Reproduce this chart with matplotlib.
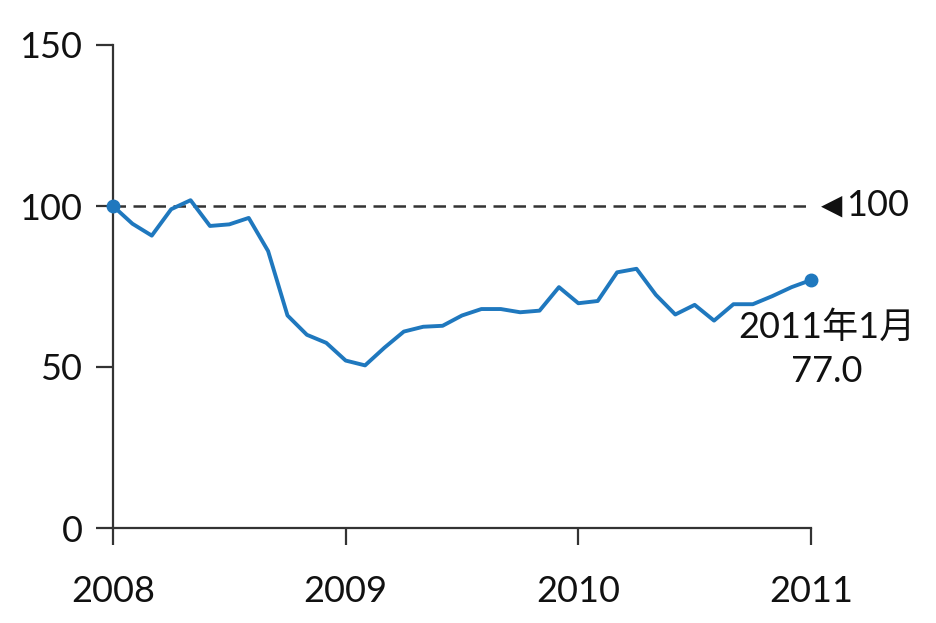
import matplotlib
matplotlib.use("Agg")
import matplotlib.pyplot as plt

months = list(range(37))
values = [100, 94.5, 90.8, 99, 101.8, 93.8, 94.3, 96.3, 86, 66, 60, 57.5,
          52, 50.5, 56, 61, 62.5, 62.8, 66, 68, 68, 67, 67.5, 74.8,
          69.8, 70.5, 79.4, 80.5, 72.4, 66.3, 69.3, 64.4, 69.5, 69.5, 72, 74.8,
          77]
xtick_pos = [0, 12, 24, 36]
xtick_labels = ["2008", "2009", "2010", "2011"]
yticks = [0, 50, 100, 150]
ref_value = 100
end_label = "2011年1月\n77.0"

plt.rcParams['font.family'] = ['Lato', 'Noto Sans CJK JP', 'DejaVu Sans']

fig = plt.figure(figsize=(9.36, 6.23), dpi=100)
ax = fig.add_axes([113/936, 95/623, (811-113)/936, (528-45)/623])

color = "#1f78be"
ax.plot(months, values, color=color, lw=2.8, solid_joinstyle='round', zorder=3, clip_on=False)
ax.plot([months[0], months[-1]], [values[0], values[-1]], 'o', color=color, ms=9,
        zorder=4, clip_on=False)
ax.plot([0, 36], [ref_value, ref_value], ls=(0, (5, 3)), color="#333333", lw=1.8, zorder=2)

ax.set_xlim(0, 36)
ax.set_ylim(0, 150)
ax.set_xticks(xtick_pos)
ax.set_xticklabels(xtick_labels)
ax.set_yticks(yticks)
for s in ["top", "right"]:
    ax.spines[s].set_visible(False)
for s in ["left", "bottom"]:
    ax.spines[s].set_color("#333333")
    ax.spines[s].set_linewidth(1.6)
ax.tick_params(axis='both', length=12, width=1.6, color="#333333", labelsize=26, labelcolor="#111111")
ax.tick_params(axis='x', pad=22)
ax.tick_params(axis='y', pad=10)
for sp in ax.spines.values():
    sp.set_clip_on(False)

ax.text(36.5, ref_value, "◀", fontsize=20, va='center', ha='left',
        family=['DejaVu Sans'], color="#111111")
ax.text(37.8, ref_value, "100", fontsize=26, va='center', ha='left', color="#111111")
ax.text(36.8, 55.5, end_label, fontsize=26, va='center', ha='center',
        linespacing=1.4, color="#111111")

fig.savefig("out.png", dpi=100)
